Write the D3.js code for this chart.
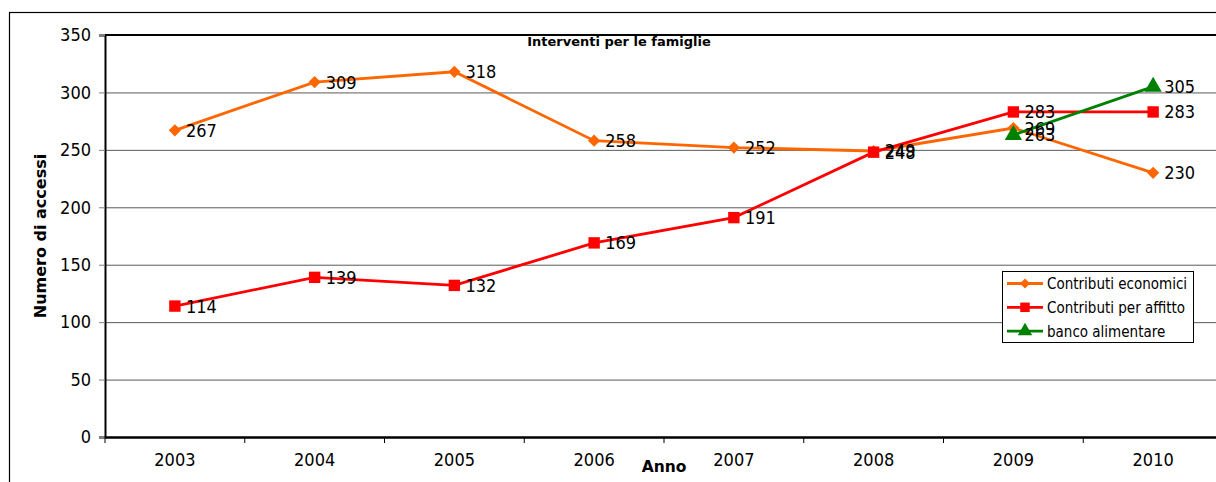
<!DOCTYPE html>
<html>
<head>
<meta charset="utf-8">
<script src="https://cdn.jsdelivr.net/npm/d3@7"></script>
<style>
  body { margin: 0; background: #fff; }
  svg { display: block; }
  text { font-family: "DejaVu Sans Condensed", "DejaVu Sans", sans-serif; }
  .bold { font-family: "DejaVu Sans", sans-serif; font-weight: bold; }
</style>
</head>
<body>
<div id="chart-area"></div>
<script>
// Data
var years = ["2003", "2004", "2005", "2006", "2007", "2008", "2009", "2010"];
var economici = [267, 309, 318, 258, 252, 249, 269, 230];
var affitto = [114, 139, 132, 169, 191, 248, 283, 283];
var banco = [null, null, null, null, null, null, 263, 305];
var yTicks = [0, 50, 100, 150, 200, 250, 300, 350];

// diamond with equal width and height (square turned by 45 degrees)
var squareDiamond = {
    draw: function(context, size) {
        var r = Math.sqrt(size) / 2;
        context.moveTo(0, -r);
        context.lineTo(r, 0);
        context.lineTo(0, r);
        context.lineTo(-r, 0);
        context.closePath();
    }
};

var series = [
    { name: "Contributi economici", values: economici, color: "#FF6600", shape: squareDiamond, size: 150, lsize: 100 },
    { name: "Contributi per affitto", values: affitto, color: "#FF0000", shape: d3.symbolSquare, size: 130, lsize: 90 },
    { name: "banco alimentare", values: banco, color: "#008000", shape: d3.symbolTriangle, size: 130, lsize: 90 }
];

var W = 1216, H = 482;
var margin = { left: 105, top: 35, right: -7, bottom: 45 };
var width = W - margin.left - margin.right,
    height = H - margin.top - margin.bottom;

var svg = d3.select("#chart-area")
    .append("svg")
        .attr("width", W)
        .attr("height", H);

// outer frame
svg.append("rect")
    .attr("x", 9.5).attr("y", 12.5)
    .attr("width", W + 20).attr("height", H + 20)
    .attr("fill", "none")
    .attr("stroke", "#000")
    .attr("stroke-width", 1.2);

var g = svg.append("g")
    .attr("transform", "translate(" + margin.left + "," + margin.top + ")");

// Scales
var x = d3.scaleBand()
    .domain(years)
    .range([0, width]);

var y = d3.scaleLinear()
    .domain([0, 350])
    .range([height, 0]);

function cx(i) { return x(years[i]) + x.bandwidth() / 2; }

// Gridlines
g.selectAll(".grid")
    .data(yTicks.filter(function(d){ return d > 0 && d < 350; }))
    .enter().append("line")
        .attr("x1", 0).attr("x2", width)
        .attr("y1", function(d){ return y(d) + 0.5; })
        .attr("y2", function(d){ return y(d) + 0.5; })
        .attr("stroke", "#5a5a5a")
        .attr("stroke-width", 1);

// top border of plot
g.append("line")
    .attr("x1", 0).attr("x2", width)
    .attr("y1", 0).attr("y2", 0)
    .attr("stroke", "#000").attr("stroke-width", 1.8);

// Y axis
var yAxisCall = d3.axisLeft(y)
    .tickValues(yTicks)
    .tickSize(6)
    .tickPadding(8);
var yAxisGroup = g.append("g").call(yAxisCall);
yAxisGroup.select(".domain").attr("stroke", "#000").attr("stroke-width", 2);
yAxisGroup.selectAll(".tick line").attr("stroke", "#7f7f7f");
yAxisGroup.selectAll(".tick text")
    .attr("font-size", "18px")
    .attr("fill", "#000")
    .attr("font-family", "DejaVu Sans Condensed, DejaVu Sans, sans-serif");

// X axis
var xAxisCall = d3.axisBottom(x)
    .tickSize(0)
    .tickPadding(16);
var xAxisGroup = g.append("g")
    .attr("transform", "translate(0," + height + ")")
    .call(xAxisCall);
xAxisGroup.select(".domain").attr("stroke", "#000").attr("stroke-width", 2.5);
xAxisGroup.selectAll(".tick text")
    .attr("font-size", "18px")
    .attr("fill", "#000")
    .attr("font-family", "DejaVu Sans Condensed, DejaVu Sans, sans-serif");

// band boundary ticks
xAxisGroup.selectAll(".btick")
    .data(years)
    .enter().append("line")
        .attr("x1", function(d){ return x(d); })
        .attr("x2", function(d){ return x(d); })
        .attr("y1", 0).attr("y2", 6)
        .attr("stroke", "#000").attr("stroke-width", 1);

// Titles
g.append("text")
    .attr("class", "bold")
    .attr("x", 514)
    .attr("y", 11)
    .attr("text-anchor", "middle")
    .attr("font-size", "13px")
    .text("Interventi per le famiglie");

svg.append("text")
    .attr("class", "bold")
    .attr("transform", "translate(46,236) rotate(-90)")
    .attr("text-anchor", "middle")
    .attr("font-size", "16px")
    .text("Numero di accessi");

svg.append("text")
    .attr("class", "bold")
    .attr("x", 664)
    .attr("y", 472)
    .attr("text-anchor", "middle")
    .attr("font-size", "15.5px")
    .text("Anno");

// Lines, markers, labels
var line = d3.line()
    .defined(function(d){ return d != null; })
    .x(function(d, i){ return cx(i); })
    .y(function(d){ return y(d); });

series.forEach(function(s) {
    g.append("path")
        .datum(s.values)
        .attr("fill", "none")
        .attr("stroke", s.color)
        .attr("stroke-width", 2.8)
        .attr("d", line);
});

series.forEach(function(s) {
    var pts = s.values.map(function(v, i){ return { v: v, i: i }; })
        .filter(function(d){ return d.v != null; });
    var sym = d3.symbol().type(s.shape).size(s.size);
    g.selectAll(null)
        .data(pts)
        .enter().append("path")
            .attr("d", sym)
            .attr("transform", function(d){ return "translate(" + cx(d.i) + "," + y(d.v) + ")"; })
            .attr("fill", s.color);
    g.selectAll(null)
        .data(pts)
        .enter().append("text")
            .attr("x", function(d){ return cx(d.i) + 11; })
            .attr("y", function(d){ return y(d.v); })
            .attr("dy", "0.36em")
            .attr("font-size", "18px")
            .attr("fill", "#000")
            .text(function(d){ return d.v; });
});

// Legend
var legend = svg.append("g")
    .attr("transform", "translate(1002,271)");
legend.append("rect")
    .attr("x", 0.5).attr("y", 0.5)
    .attr("width", 191).attr("height", 71)
    .attr("fill", "#fff")
    .attr("stroke", "#000").attr("stroke-width", 1);

var items = legend.selectAll(".item")
    .data(series)
    .enter().append("g")
        .attr("transform", function(d, i){ return "translate(0," + (12.5 + i * 23.8) + ")"; });
items.append("line")
    .attr("x1", 5).attr("x2", 41)
    .attr("stroke", function(d){ return d.color; })
    .attr("stroke-width", 2.8);
items.append("path")
    .attr("d", function(d){ return d3.symbol().type(d.shape).size(d.lsize)(); })
    .attr("transform", "translate(23,0)")
    .attr("fill", function(d){ return d.color; });
items.append("text")
    .attr("x", 45)
    .attr("dy", "0.36em")
    .attr("font-size", "15px")
    .attr("fill", "#000")
    .text(function(d){ return d.name; });
</script>
</body>
</html>
